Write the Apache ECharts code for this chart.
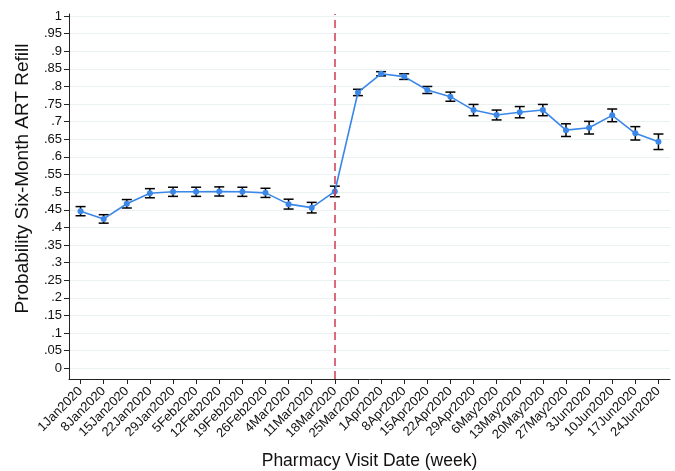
<!DOCTYPE html>
<html>
<head>
<meta charset="utf-8">
<script src="https://cdn.jsdelivr.net/npm/echarts@6/dist/echarts.min.js"></script>
<style>
  html, body { margin: 0; padding: 0; background: #ffffff; }
  #chart { width: 675px; height: 471px; }
</style>
</head>
<body>
<div id="chart"></div>
<script>
var categories = ['1Jan2020','8Jan2020','15Jan2020','22Jan2020','29Jan2020','5Feb2020','12Feb2020','19Feb2020','26Feb2020','4Mar2020','11Mar2020','18Mar2020','25Mar2020','1Apr2020','8Apr2020','15Apr2020','22Apr2020','29Apr2020','6May2020','13May2020','20May2020','27May2020','3Jun2020','10Jun2020','17Jun2020','24Jun2020'];
var probability = [0.446,0.424,0.467,0.497,0.501,0.501,0.502,0.501,0.498,0.466,0.456,0.502,0.783,0.836,0.828,0.790,0.771,0.733,0.719,0.727,0.733,0.676,0.683,0.718,0.667,0.643];
var lowerCI = [0.433,0.412,0.455,0.484,0.488,0.488,0.489,0.488,0.485,0.452,0.441,0.487,0.774,0.830,0.820,0.780,0.758,0.717,0.705,0.711,0.717,0.658,0.665,0.700,0.648,0.621];
var upperCI = [0.459,0.436,0.479,0.510,0.514,0.514,0.515,0.514,0.511,0.480,0.471,0.517,0.792,0.842,0.836,0.800,0.784,0.749,0.733,0.743,0.749,0.694,0.701,0.736,0.686,0.665];
var yTickValues = [0,0.05,0.1,0.15,0.2,0.25,0.3,0.35,0.4,0.45,0.5,0.55,0.6,0.65,0.7,0.75,0.8,0.85,0.9,0.95,1];
var yTickLabels = ['0','.05','.1','.15','.2','.25','.3','.35','.4','.45','.5','.55','.6','.65','.7','.75','.8','.85','.9','.95','1'];
var policyDate = '18Mar2020';

var chart = echarts.init(document.getElementById('chart'), null, { renderer: 'canvas' });

var errorData = categories.map(function (c, i) { return [i, lowerCI[i], upperCI[i]]; });

var font = 'Liberation Sans, Arial, Helvetica, sans-serif';

var option = {
  animation: false,
  backgroundColor: '#ffffff',
  grid: { left: 69, right: 5, top: 14, bottom: 92, containLabel: false, outerBoundsMode: 'none' },
  xAxis: {
    type: 'category',
    data: categories,
    boundaryGap: true,
    name: 'Pharmacy Visit Date (week)',
    nameLocation: 'middle',
    nameGap: 73,
    nameMoveOverlap: false,
    nameTextStyle: { fontFamily: font, fontSize: 17.5, color: '#111' },
    axisLine: { show: true, onZero: false, lineStyle: { color: '#222', width: 1 } },
    axisTick: { show: true, alignWithLabel: true, length: 5, lineStyle: { color: '#222', width: 1 } },
    axisLabel: { rotate: 45, interval: 0, fontFamily: font, fontSize: 13, color: '#111', margin: 10 },
    splitLine: { show: false }
  },
  yAxis: {
    type: 'value',
    min: -0.0304,
    max: 1.0057,
    name: 'Probability Six-Month ART Refill',
    nameLocation: 'middle',
    nameGap: 37,
    nameMoveOverlap: false,
    nameTextStyle: { fontFamily: font, fontSize: 19, color: '#111', padding: [0, 0, 0, 36] },
    axisLine: { show: true, lineStyle: { color: '#222', width: 1 } },
    axisTick: { show: true, length: 5, customValues: yTickValues, lineStyle: { color: '#222', width: 1 } },
    axisLabel: {
      customValues: yTickValues,
      fontFamily: font, fontSize: 13, color: '#111', margin: 7,
      formatter: function (v) {
        var idx = yTickValues.findIndex(function (t) { return Math.abs(t - v) < 1e-6; });
        return idx >= 0 ? yTickLabels[idx] : '';
      }
    },
    splitLine: { show: true, lineStyle: { color: '#e9f1f2', width: 1 } }
  },
  series: [
    {
      type: 'custom',
      name: 'CI',
      z: 3,
      renderItem: function (params, api) {
        var x = api.value(0);
        var lo = api.coord([x, api.value(1)]);
        var hi = api.coord([x, api.value(2)]);
        var cap = 5;
        var style = { stroke: '#000', lineWidth: 1.5 };
        return {
          type: 'group',
          children: [
            { type: 'line', shape: { x1: lo[0], y1: lo[1], x2: hi[0], y2: hi[1] }, style: style },
            { type: 'line', shape: { x1: lo[0] - cap, y1: lo[1], x2: lo[0] + cap, y2: lo[1] }, style: style },
            { type: 'line', shape: { x1: hi[0] - cap, y1: hi[1], x2: hi[0] + cap, y2: hi[1] }, style: style }
          ]
        };
      },
      data: errorData
    },
    {
      type: 'line',
      name: 'Probability',
      data: probability,
      z: 4,
      symbol: 'circle',
      symbolSize: 6,
      lineStyle: { color: '#3b87e8', width: 1.6 },
      itemStyle: { color: '#3b87e8' },
      markLine: {
        silent: true,
        symbol: ['none', 'none'],
        label: { show: false },
        lineStyle: { color: '#d23a52', type: [8, 5], width: 1.5 },
        data: [{ xAxis: policyDate }]
      }
    }
  ]
};

chart.setOption(option);
</script>
</body>
</html>
